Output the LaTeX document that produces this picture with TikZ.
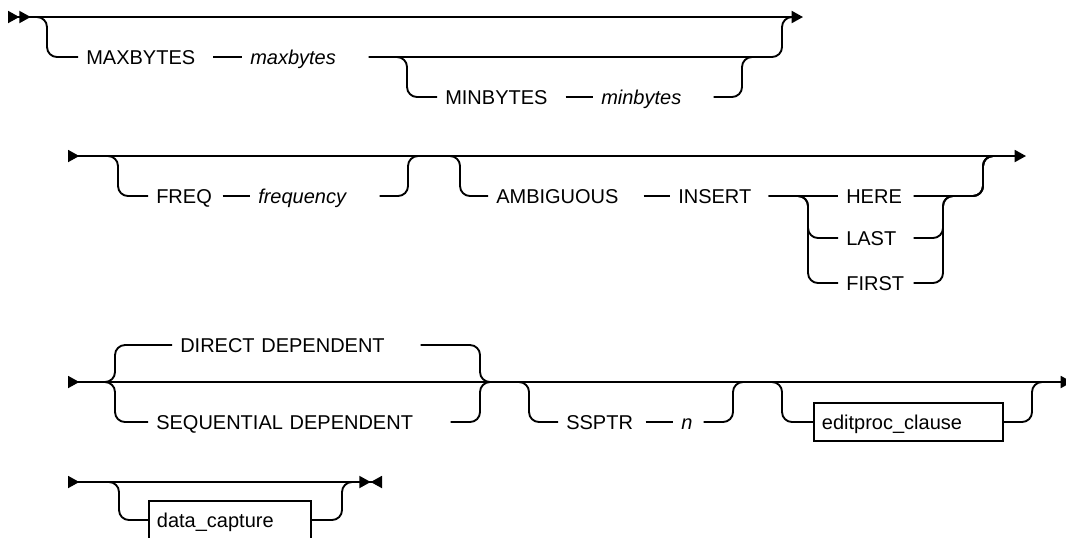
\documentclass[tikz,border=0pt]{standalone}
\usepackage{fontspec}
\setmainfont{Liberation Sans}
\usetikzlibrary{arrows.meta}

\begin{document}
\begin{tikzpicture}[x=0.75pt,y=-0.75pt,
    every node/.style={font=\fontsize{15}{18}\selectfont},
    >={Triangle[length=8.5pt,width=9pt,sep=0pt]},
    rail/.style={line width=1.4pt,rounded corners=7.5pt},
    kw/.style={anchor=west,inner xsep=6pt,inner ysep=0pt,text height=10.7pt,text depth=0pt,align=left,text width=#1},
    var/.style={kw=#1,font=\fontsize{15}{18}\selectfont\itshape},
    syn/.style={kw=#1,draw,line width=1.4pt,minimum height=28.5pt}]
  \useasboundingbox (0,0) rectangle (1066,537);
  % row 1
  \coordinate (s1) at (8,17); \coordinate (e1) at (803,17);
  \coordinate (p1) at (35,17); \coordinate (q1) at (792,17);
  \coordinate (p2) at (396,57); \coordinate (q2) at (752,57);
  \node[kw=89pt] (maxkw) at (78,57) {MAXBYTES};
  \node[var=82.5pt] (maxvar) at (242,57) {maxbytes};
  \node[kw=84pt] (minkw) at (437,97) {MINBYTES};
  \node[var=78pt] (minvar) at (593,97) {minbytes};
  \draw[rail,>>->] (s1) -- (e1);
  \draw[rail] (p1) -| (47,57) -- (maxkw); \draw[rail] (maxkw) -- (maxvar);
  \draw[rail] (maxvar) -| (782,17) -- (q1);
  \draw[rail] (p2) -| (407,97) -- (minkw); \draw[rail] (minkw) -- (minvar);
  \draw[rail] (minvar) -| (742,57) -- (q2);
  % row 2
  \coordinate (s2) at (68,156); \coordinate (e2) at (1026,156);
  \coordinate (p3) at (108,156); \coordinate (q3) at (416,156);
  \coordinate (p4) at (450,156); \coordinate (q4) at (992,156);
  \node[kw=43.5pt] (freqkw) at (148,196) {FREQ};
  \node[var=84.75pt] (freqvar) at (250,196) {frequency};
  \node[kw=104.25pt] (ambkw) at (488,196) {AMBIGUOUS};
  \node[kw=61.5pt] (inskw) at (670,196) {INSERT};
  \node[kw=44.25pt] (herekw) at (838,196) {HERE};
  \node[kw=44.25pt] (lastkw) at (838,238) {LAST};
  \node[kw=44.25pt] (firstkw) at (838,283) {FIRST};
  \draw[rail,>->] (s2) -- (e2);
  \draw[rail] (p3) -| (118,196) -- (freqkw); \draw[rail] (freqkw) -- (freqvar);
  \draw[rail] (freqvar) -| (408,156) -- (q3);
  \draw[rail] (p4) -| (460,196) -- (ambkw); \draw[rail] (ambkw) -- (inskw);
  \draw[rail] (inskw) -- (herekw);
  \draw[rail] (inskw) -| (808,238) -- (lastkw);
  \draw[rail] (inskw) -| (808,283) -- (firstkw);
  \draw[rail] (herekw) -| (983,156) -- (q4);
  \draw[rail] (lastkw) -| (943,196) -| (983,156) -- (q4);
  \draw[rail] (firstkw) -| (943,196) -| (983,156) -- (q4);
  % row 3
  \coordinate (s3) at (68,382); \coordinate (e3) at (1072,382);
  \coordinate (p5) at (104,382); \coordinate (q5) at (490,382);
  \coordinate (p6) at (518,382); \coordinate (q6) at (742,382);
  \coordinate (p7) at (771,382); \coordinate (q7) at (1040,382);
  \node[kw=174pt] (dirkw) at (172,345) {DIRECT DEPENDENT};
  \node[kw=214.5pt] (seqkw) at (148,422) {SEQUENTIAL DEPENDENT};
  \node[kw=53.25pt] (sspkw) at (558,422) {SSPTR};
  \node[var=10.5pt] (nvar) at (673,422) {n};
  \node[syn=129.75pt] (editbox) at (813,422) {editproc\_clause};
  \draw[rail,>->] (s3) -- (e3);
  \draw[rail] (p5) -| (115,345) -- (dirkw); \draw[rail] (dirkw) -| (480,382) -- (q5);
  \draw[rail] (p5) -| (115,422) -- (seqkw); \draw[rail] (seqkw) -| (480,382) -- (q5);
  \draw[rail] (p6) -| (529,422) -- (sspkw); \draw[rail] (sspkw) -- (nvar);
  \draw[rail] (nvar) -| (733,382) -- (q6);
  \draw[rail] (p7) -| (782,422) -- (editbox); \draw[rail] (editbox) -| (1032,382) -- (q7);
  % row 4
  \coordinate (s4) at (68,482); \coordinate (e4) at (382,482);
  \coordinate (p8) at (108,482); \coordinate (q8) at (350,482);
  \node[syn=109.5pt] (capbox) at (148,520) {data\_capture};
  \draw[rail,>-><] (s4) -- (e4);
  \draw[rail] (p8) -| (119,520) -- (capbox); \draw[rail] (capbox) -| (342,482) -- (q8);
\end{tikzpicture}
\end{document}
